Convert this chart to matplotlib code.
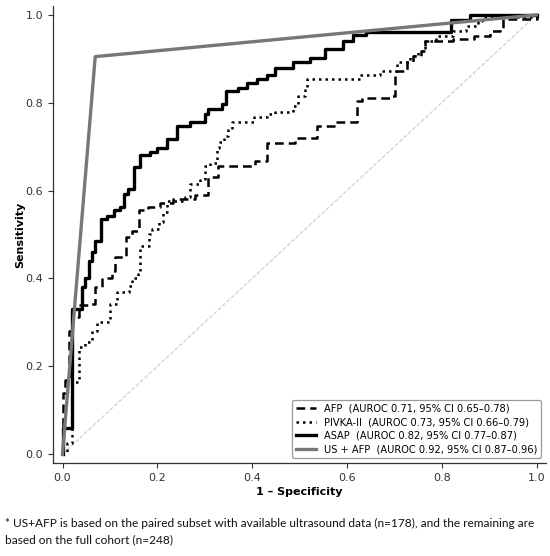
import matplotlib.pyplot as plt
import numpy as np

# ROC step points (steps-post: at fpr the curve rises to tpr)
afp_fpr = [0.000, 0.000, 0.006, 0.013, 0.020, 0.034, 0.055, 0.069, 0.083, 0.105,
           0.110, 0.133, 0.147, 0.161, 0.181, 0.206, 0.234, 0.280, 0.308, 0.329,
           0.406, 0.431, 0.490, 0.536, 0.578, 0.622, 0.631, 0.694, 0.701, 0.726,
           0.740, 0.757, 0.764, 0.823, 0.869, 0.901, 0.922, 0.929, 1.000]
afp_tpr = [0.000, 0.140, 0.168, 0.280, 0.312, 0.339, 0.343, 0.380, 0.400, 0.418,
           0.448, 0.494, 0.509, 0.555, 0.562, 0.572, 0.581, 0.591, 0.630, 0.657,
           0.668, 0.708, 0.719, 0.748, 0.757, 0.805, 0.810, 0.816, 0.873, 0.892,
           0.907, 0.918, 0.941, 0.945, 0.952, 0.964, 0.971, 0.990, 1.000]

pivka_fpr = [0.000, 0.000, 0.010, 0.020, 0.034, 0.048, 0.063, 0.073, 0.101, 0.115,
             0.140, 0.147, 0.160, 0.164, 0.182, 0.189, 0.203, 0.213, 0.220, 0.259,
             0.269, 0.290, 0.301, 0.312, 0.326, 0.331, 0.340, 0.350, 0.357, 0.403,
             0.431, 0.448, 0.487, 0.497, 0.512, 0.516, 0.627, 0.669, 0.705, 0.733,
             0.750, 0.764, 0.789, 0.823, 0.852, 0.876, 0.886, 1.000]
pivka_tpr = [0.000, 0.005, 0.025, 0.164, 0.244, 0.255, 0.280, 0.300, 0.343, 0.369,
             0.384, 0.400, 0.410, 0.475, 0.502, 0.513, 0.528, 0.551, 0.577, 0.585,
             0.615, 0.627, 0.657, 0.664, 0.698, 0.710, 0.725, 0.740, 0.757, 0.768,
             0.774, 0.778, 0.793, 0.816, 0.831, 0.854, 0.864, 0.873, 0.892, 0.907,
             0.918, 0.941, 0.952, 0.964, 0.975, 0.986, 0.995, 1.000]

asap_fpr = [0.000, 0.000, 0.020, 0.041, 0.048, 0.055, 0.0625, 0.069, 0.082, 0.094,
            0.108, 0.122, 0.130, 0.139, 0.150, 0.164, 0.185, 0.199, 0.220, 0.241,
            0.269, 0.301, 0.307, 0.336, 0.345, 0.371, 0.389, 0.410, 0.431, 0.448,
            0.487, 0.522, 0.554, 0.591, 0.613, 0.641, 0.820, 0.859, 1.000]
asap_tpr = [0.000, 0.060, 0.330, 0.380, 0.400, 0.440, 0.460, 0.486, 0.536, 0.543,
            0.555, 0.562, 0.593, 0.604, 0.653, 0.680, 0.687, 0.698, 0.717, 0.748,
            0.757, 0.774, 0.786, 0.797, 0.826, 0.833, 0.844, 0.854, 0.864, 0.880,
            0.893, 0.903, 0.922, 0.941, 0.954, 0.960, 0.988, 1.000, 1.000]

us_fpr = [0.0, 0.069, 1.0]
us_tpr = [0.0, 0.905, 1.0]

labels = ["AFP  (AUROC 0.71, 95% CI 0.65\u20130.78)",
          "PIVKA-II  (AUROC 0.73, 95% CI 0.66\u20130.79)",
          "ASAP  (AUROC 0.82, 95% CI 0.77\u20130.87)",
          "US + AFP  (AUROC 0.92, 95% CI 0.87\u20130.96)"]
ticks = [0.0, 0.2, 0.4, 0.6, 0.8, 1.0]

footnote = ("* US+AFP is based on the paired subset with available ultrasound data (n=178), "
            "and the remaining are\nbased on the full cohort (n=248)")

fig = plt.figure(figsize=(5.5, 5.56), dpi=100)
ax = fig.add_axes([0.0964, 0.1673, 0.8963, 0.8217])

ax.plot([0, 1], [0, 1], color='#cccccc', lw=0.8, ls='--', zorder=1)
ax.plot(afp_fpr, afp_tpr, drawstyle='steps-post', color='black', lw=1.8,
        ls=(0, (3.5, 2)), label=labels[0])
ax.plot(pivka_fpr, pivka_tpr, drawstyle='steps-post', color='black', lw=1.8,
        ls=(0, (1, 1.6)), label=labels[1])
ax.plot(asap_fpr, asap_tpr, drawstyle='steps-post', color='black', lw=2.4,
        label=labels[2])
ax.plot(us_fpr, us_tpr, color='#777777', lw=2.4, label=labels[3])

ax.set_xlim(-0.02, 1.02)
ax.set_ylim(-0.02, 1.02)
ax.set_xticks(ticks)
ax.set_yticks(ticks)
ax.set_xticklabels([f"{t:.1f}" for t in ticks])
ax.set_yticklabels([f"{t:.1f}" for t in ticks])
ax.tick_params(labelsize=8, colors='#333333', length=3.5, width=0.8)
for s in ['top', 'right']:
    ax.spines[s].set_visible(False)
for s in ['left', 'bottom']:
    ax.spines[s].set_color('#333333')
    ax.spines[s].set_linewidth(0.9)

ax.set_xlabel("1 \u2013 Specificity", fontsize=8, fontweight='bold', labelpad=3)
ax.set_ylabel("Sensitivity", fontsize=8, fontweight='bold', labelpad=0)

leg = ax.legend(loc='lower right', fontsize=7.1, frameon=True, framealpha=1,
                edgecolor='#999999', borderaxespad=0.5, handlelength=2.0,
                labelspacing=0.35)
leg.get_frame().set_linewidth(0.9)

fig.text(0.009, 0.068, footnote, fontsize=8.6, family=['Lato', 'DejaVu Sans'],
         va='top', ha='left', linespacing=1.55, color='#111111')

fig.savefig('out.png', dpi=100)
